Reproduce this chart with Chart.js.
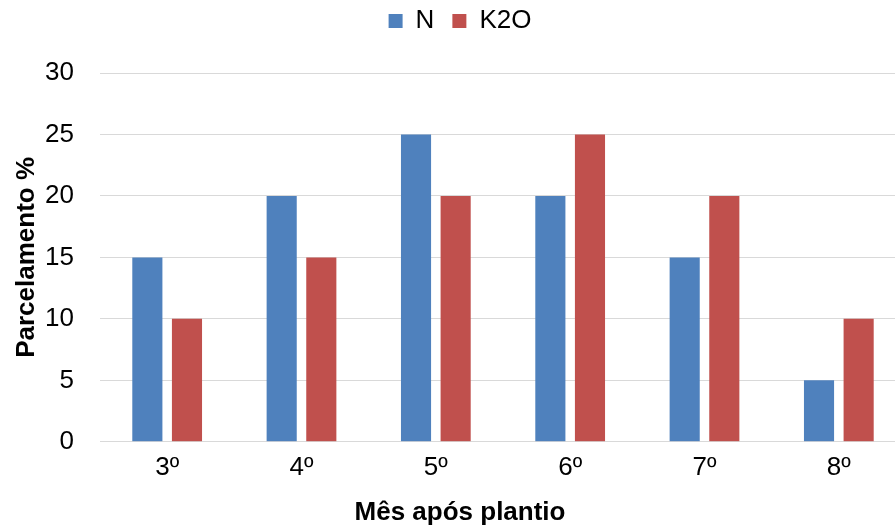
<!DOCTYPE html>
<html>
<head>
<meta charset="utf-8">
<script src="https://cdn.jsdelivr.net/npm/chart.js@4"></script>
<style>
  html, body { margin: 0; padding: 0; background: #fff; overflow: hidden; }
  #clip { width: 895px; height: 526px; overflow: hidden; }
  /* the original chart is a bit wider than the picture, its right edge is cut off */
  #wrap { width: 921px; height: 526px; }
</style>
</head>
<body>
<div id="clip"><div id="wrap"><canvas id="chart"></canvas></div></div>
<script>
  // data
  const months = ['3º', '4º', '5º', '6º', '7º', '8º'];
  const nValues = [15, 20, 25, 20, 15, 5];
  const k2oValues = [10, 15, 20, 25, 20, 10];

  const font = 'Arial, "Liberation Sans", sans-serif';

  // push the plot down a bit under the legend
  const legendGap = {
    id: 'legendGap',
    beforeInit(chart) {
      const origFit = chart.legend.fit;
      chart.legend.fit = function () {
        origFit.bind(chart.legend)();
        this.height += 29;
      };
    }
  };

  const myChart = new Chart(document.getElementById('chart'), {
    type: 'bar',
    data: {
      labels: months,
      datasets: [
        { label: 'N', data: nValues, backgroundColor: '#4F81BD' },
        { label: 'K2O', data: k2oValues, backgroundColor: '#C0504D' }
      ]
    },
    options: {
      responsive: true,
      maintainAspectRatio: false,
      animation: false,
      categoryPercentage: 0.59,
      barPercentage: 0.76,
      layout: { padding: { left: 14, right: 15, top: -10, bottom: 0 } },
      plugins: {
        legend: {
          position: 'top',
          labels: {
            font: { family: font, size: 26 },
            color: '#000',
            boxWidth: 14,
            boxHeight: 14,
            padding: 18
          }
        },
        title: {
          display: true,
          position: 'bottom',
          text: 'Mês após plantio',
          font: { family: font, size: 26, weight: 'bold', lineHeight: 1 },
          color: '#000',
          padding: { top: 7, bottom: 0 }
        },
        tooltip: { enabled: false }
      },
      scales: {
        x: {
          grid: { display: false, drawTicks: false },
          border: { color: '#d9d9d9', width: 1 },
          ticks: { font: { family: font, size: 26 }, color: '#000', padding: 10 }
        },
        y: {
          min: 0,
          max: 30,
          afterFit: function (scale) { scale.width = 86; },
          ticks: { stepSize: 5, font: { family: font, size: 26 }, color: '#000', padding: 26 },
          grid: { color: '#d9d9d9', drawTicks: false },
          border: { display: false },
          title: {
            display: true,
            text: 'Parcelamento %',
            font: { family: font, size: 26, weight: 'bold' },
            color: '#000',
            padding: { top: -3, bottom: 2 }
          }
        }
      }
    },
    plugins: [legendGap]
  });
</script>
</body>
</html>
